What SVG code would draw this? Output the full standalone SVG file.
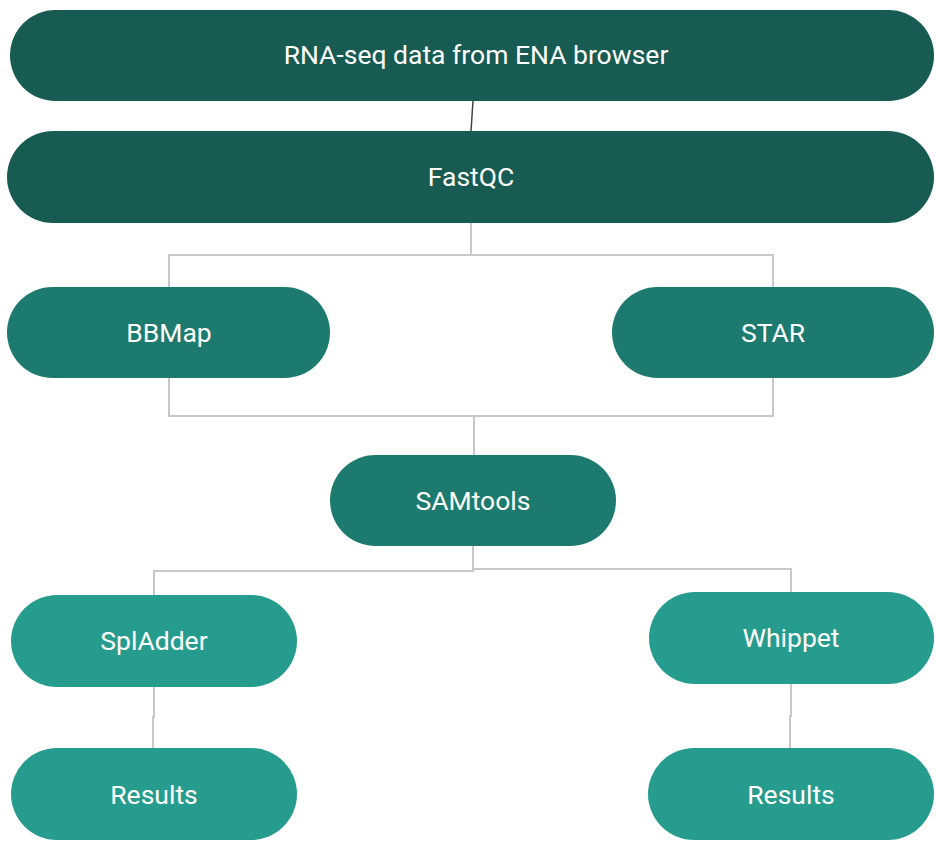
<svg xmlns="http://www.w3.org/2000/svg" width="936" height="841" viewBox="0 0 936 841">
<style>
.t{font-family:Roboto,"Liberation Sans",sans-serif;font-size:26.5px;fill:#ffffff;text-anchor:middle;dominant-baseline:central}
.c{fill:none;stroke:#c8c8c8;stroke-width:2}
.d1{fill:#185b53}
.d2{fill:#1d7a6e}
.d3{fill:#269c8e}
</style>
<rect width="936" height="841" fill="#ffffff"/>
<g id="connectors">
<line x1="473" y1="101" x2="471" y2="131" stroke="#444" stroke-width="1.5"/>
<path class="c" d="M471 223V255M169 287V255H773V287"/>
<path class="c" d="M169 378V416H773V378M474 416V455"/>
<path class="c" d="M473 546V571H154V595M473 569H791V592"/>
<path class="c" d="M154 687V717H153V748"/>
<path class="c" d="M791 684V716H790V748"/>
</g>
<g id="n-ena"><rect class="d1" x="10" y="10" width="924" height="91" rx="45.5"/><text class="t" x="476" y="54.5">RNA-seq data from ENA browser</text></g>
<g id="n-fastqc"><rect class="d1" x="7" y="131" width="927" height="92" rx="46"/><text class="t" x="471" y="176.5">FastQC</text></g>
<g id="n-bbmap"><rect class="d2" x="7" y="287" width="323" height="91" rx="45.5"/><text class="t" x="169" y="332.5">BBMap</text></g>
<g id="n-star"><rect class="d2" x="612" y="287" width="322" height="91" rx="45.5"/><text class="t" x="773" y="332.5">STAR</text></g>
<g id="n-samtools"><rect class="d2" x="330" y="455" width="286" height="91" rx="45.5"/><text class="t" x="473" y="500.5">SAMtools</text></g>
<g id="n-spladder"><rect class="d3" x="11" y="595" width="286" height="92" rx="46"/><text class="t" x="154" y="640.5">SplAdder</text></g>
<g id="n-whippet"><rect class="d3" x="649" y="592" width="285" height="92" rx="46"/><text class="t" x="791" y="637.5">Whippet</text></g>
<g id="n-results1"><rect class="d3" x="11" y="748" width="286" height="92" rx="46"/><text class="t" x="154" y="794.5">Results</text></g>
<g id="n-results2"><rect class="d3" x="648" y="748" width="286" height="92" rx="46"/><text class="t" x="791" y="794.5">Results</text></g>
</svg>
